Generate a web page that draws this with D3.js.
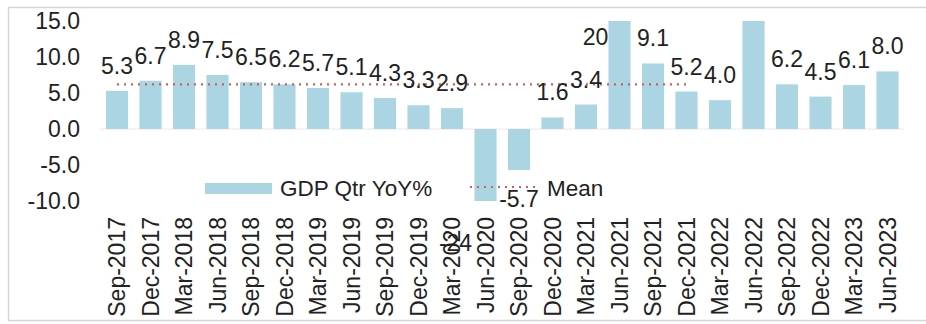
<!DOCTYPE html>
<html>
<head>
<meta charset="utf-8">
<script src="https://cdn.jsdelivr.net/npm/d3@7"></script>
<style>
  html, body { margin: 0; padding: 0; background: #fff; }
  svg { display: block; font-family: "Liberation Sans", Arial, sans-serif; }
</style>
</head>
<body>
<svg id="chart" width="926" height="324"></svg>
<script>
// Quarter labels along the x axis
const quarters = [
  "Sep-2017", "Dec-2017", "Mar-2018", "Jun-2018", "Sep-2018", "Dec-2018",
  "Mar-2019", "Jun-2019", "Sep-2019", "Dec-2019", "Mar-2020", "Jun-2020",
  "Sep-2020", "Dec-2020", "Mar-2021", "Jun-2021", "Sep-2021", "Dec-2021",
  "Mar-2022", "Jun-2022", "Sep-2022", "Dec-2022", "Mar-2023", "Jun-2023"
];

// GDP growth, quarter on same quarter of previous year (%)
const gdpYoY = [
  5.3, 6.7, 8.9, 7.5, 6.5, 6.2,
  5.7, 5.1, 4.3, 3.3, 2.9, -24,
  -5.7, 1.6, 3.4, 20, 9.1, 5.2,
  4.0, 15.5, 6.2, 4.5, 6.1, 8.0
];

// Mean of the series, drawn over Sep-2017 .. Dec-2021
const meanYoY = [
  6.2, 6.2, 6.2, 6.2, 6.2, 6.2,
  6.2, 6.2, 6.2, 6.2, 6.2, 6.2,
  6.2, 6.2, 6.2, 6.2, 6.2, 6.2,
  null, null, null, null, null, null
];

// Value axis ticks
const yTicks = [-10, -5, 0, 5, 10, 15];

// Quarters whose value label sits off the visible area
const hiddenLabels = ["Jun-2022"];

const barColor = "#abd5e3";
const meanColor = "#c9625c";
const textColor = "#222";

// Plain hyphen for negative numbers
const hyphen = s => s.replace("\u2212", "-");

const svg = d3.select("#chart");

// Outer frame
svg.append("rect")
  .attr("x", 8.5).attr("y", 7.5)
  .attr("width", 940).attr("height", 313)
  .attr("fill", "none")
  .attr("stroke", "#d6d6d6")
  .attr("stroke-width", 1.5);

const x = d3.scaleBand()
  .domain(quarters)
  .range([100.25, 904.25])
  .paddingInner(0.34)
  .paddingOuter(0.17);

const y = d3.scaleLinear()
  .domain([-10, 15])
  .range([201, 21])
  .clamp(true);

// Zero line
svg.append("line")
  .attr("x1", 100).attr("x2", 904)
  .attr("y1", y(0)).attr("y2", y(0))
  .attr("stroke", "#ece6e0")
  .attr("stroke-width", 1);

// Bars
svg.append("g")
  .selectAll("rect")
  .data(quarters.map((q, i) => ({ q, v: gdpYoY[i] })))
  .join("rect")
  .attr("x", d => x(d.q))
  .attr("width", x.bandwidth())
  .attr("y", d => Math.min(y(d.v), y(0)))
  .attr("height", d => Math.abs(y(d.v) - y(0)))
  .attr("fill", barColor);

// Mean line
const meanLine = d3.line()
  .defined(d => d.v !== null)
  .x(d => x(d.q) + x.bandwidth() / 2)
  .y(d => y(d.v));

svg.append("path")
  .datum(quarters.map((q, i) => ({ q, v: meanYoY[i] })))
  .attr("d", meanLine)
  .attr("fill", "none")
  .attr("stroke", meanColor)
  .attr("stroke-width", 2.2)
  .attr("stroke-dasharray", "2,5");

// Value axis
const yAxis = svg.append("g")
  .attr("transform", "translate(100,0)")
  .call(d3.axisLeft(y).tickValues(yTicks).tickSize(0).tickPadding(20)
    .tickFormat(v => hyphen(d3.format(".1f")(v))));
yAxis.select(".domain").remove();
yAxis.selectAll("text")
  .attr("fill", textColor)
  .style("font-size", "23px")
  .style("font-family", "'Liberation Sans', Arial, sans-serif");

// Category axis with vertical labels
const xAxis = svg.append("g")
  .attr("transform", `translate(0,${y(-10)})`)
  .call(d3.axisBottom(x).tickSize(0));
xAxis.select(".domain").remove();
xAxis.selectAll("text")
  .attr("transform", "rotate(-90)")
  .attr("x", -16)
  .attr("y", 0)
  .attr("dy", "0.36em")
  .style("text-anchor", "end")
  .attr("fill", textColor)
  .style("font-size", "23px")
  .style("font-family", "'Liberation Sans', Arial, sans-serif");

// Value labels
const [yMin, yMax] = y.domain();
const fmt = v => hyphen((v > yMax || v < yMin) ? d3.format(".0f")(v) : d3.format(".1f")(v));

svg.append("g")
  .selectAll("text")
  .data(quarters.map((q, i) => ({ q, v: gdpYoY[i] })).filter(d => !hiddenLabels.includes(d.q)))
  .join("text")
  .attr("x", d => {
    const cx = x(d.q) + x.bandwidth() / 2;
    if (d.v > yMax) return cx - 24;
    if (d.v < yMin) return cx - 30;
    return cx;
  })
  .attr("y", d => {
    if (d.v > yMax) return y(yMax) + 24;
    if (d.v < yMin) return y(yMin) + 50;
    return d.v >= 0 ? y(d.v) - 17 : y(d.v) + 37;
  })
  .attr("text-anchor", "middle")
  .attr("fill", textColor)
  .style("font-size", "23px")
  .text(d => fmt(d.v));

// Legend
const legend = svg.append("g");
legend.append("rect")
  .attr("x", 205).attr("y", 183)
  .attr("width", 67).attr("height", 11)
  .attr("fill", barColor);
legend.append("text")
  .attr("x", 280).attr("y", 196)
  .attr("fill", textColor)
  .style("font-size", "22.5px")
  .text("GDP Qtr YoY%");
legend.append("line")
  .attr("x1", 470).attr("x2", 537)
  .attr("y1", 187).attr("y2", 187)
  .attr("stroke", meanColor)
  .attr("stroke-width", 2.2)
  .attr("stroke-dasharray", "2,5");
legend.append("text")
  .attr("x", 547).attr("y", 196)
  .attr("fill", textColor)
  .style("font-size", "22.5px")
  .text("Mean");
</script>
</body>
</html>
